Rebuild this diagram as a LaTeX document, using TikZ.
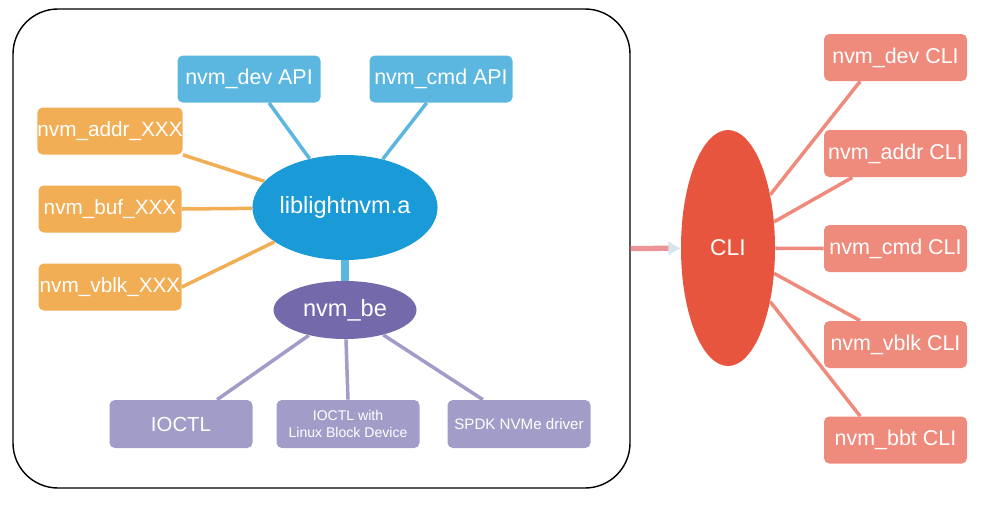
\documentclass[tikz,border=0pt]{standalone}
\usepackage{fontspec}
\setmainfont{Liberation Sans}
\usetikzlibrary{shapes.geometric,arrows.meta}
\definecolor{apiblue}{HTML}{5BB7DF}
\definecolor{libblue}{HTML}{1A9AD6}
\definecolor{modorange}{HTML}{F2AE55}
\definecolor{bepurple}{HTML}{7469AA}
\definecolor{drvlilac}{HTML}{A29DC8}
\definecolor{clired}{HTML}{E8553F}
\definecolor{clisalmon}{HTML}{EF8B7D}
\definecolor{tipblue}{HTML}{D6E4EE}
\definecolor{feedpink}{HTML}{EC9496}

\begin{document}
\begin{tikzpicture}[
    box/.style={rectangle, rounded corners=3pt, minimum width=2.86cm, minimum height=0.94cm, inner sep=0pt, align=center, text=white, font=\fontsize{11.8}{13}\selectfont},
    blob/.style={ellipse, inner sep=0pt, text=white, font=\fontsize{13.4}{15}\selectfont},
    link/.style={line width=2pt}
]
\useasboundingbox (0,0) rectangle (19.72,10.12);

% Library frame
\node[draw=black, line width=0.8pt, rounded corners=0.9cm, minimum width=12.34cm, minimum height=9.58cm] (frame) at (6.43, 5.15) {};

% Library parts
\node[box, fill=apiblue, font=\fontsize{12.2}{14}\selectfont] (devapi) at (4.98, 8.54) {nvm\_dev API};
\node[box, fill=apiblue, font=\fontsize{12.2}{14}\selectfont] (cmdapi) at (8.82, 8.54) {nvm\_cmd API};
\node[box, fill=modorange] (addr) at (2.2, 7.5)  {nvm\_addr\_XXX};
\node[box, fill=modorange] (buf)  at (2.2, 5.94) {nvm\_buf\_XXX};
\node[box, fill=modorange] (vblk) at (2.2, 4.38) {nvm\_vblk\_XXX};
\node[blob, fill=libblue, minimum width=3.34cm, minimum height=2.1cm] (lib) at (6.9, 5.97) {liblightnvm.a};
\node[blob, fill=bepurple, minimum width=2.86cm, minimum height=1.16cm] (be) at (6.9, 3.92) {nvm\_be};
\node[box, fill=drvlilac, minimum height=0.96cm, font=\fontsize{11.6}{13}\selectfont] (ioctl) at (3.62, 1.64) {IOCTL};
\node[box, fill=drvlilac, minimum height=0.96cm, font=\fontsize{8}{9.6}\selectfont] (ioctlblk) at (6.96, 1.64) {IOCTL with\\Linux Block Device};
\node[box, fill=drvlilac, minimum height=0.96cm, font=\fontsize{8.6}{10}\selectfont] (spdk) at (10.38, 1.64) {SPDK NVMe driver};

% CLI parts
\node[blob, fill=clired, minimum width=1.88cm, minimum height=4.72cm, font=\fontsize{13}{15}\selectfont] (cli) at (14.56, 5.16) {CLI};
\node[box, fill=clisalmon, font=\fontsize{12.2}{14}\selectfont] (devcli)  at (17.91, 8.97) {nvm\_dev CLI};
\node[box, fill=clisalmon, font=\fontsize{12.2}{14}\selectfont] (addrcli) at (17.91, 7.05) {nvm\_addr CLI};
\node[box, fill=clisalmon, font=\fontsize{12.2}{14}\selectfont] (cmdcli)  at (17.91, 5.15) {nvm\_cmd CLI};
\node[box, fill=clisalmon, font=\fontsize{12.2}{14}\selectfont] (vblkcli) at (17.91, 3.23) {nvm\_vblk CLI};
\node[box, fill=clisalmon, font=\fontsize{12.2}{14}\selectfont] (bbtcli)  at (17.91, 1.32) {nvm\_bbt CLI};

% Connectors
\draw[link, apiblue] (devapi.-50) -- (lib);
\draw[link, apiblue] (cmdapi.-121) -- (lib);
\draw[link, modorange] (addr.south east) -- (lib);
\draw[link, modorange] (buf.east) -- (lib);
\draw[link, modorange] (vblk.east) -- (lib);
\draw[line width=4.6pt, apiblue] (lib) -- (be);
\draw[link, drvlilac] (ioctl.34) -- (be);
\draw[link, drvlilac] (ioctlblk.north) -- (be);
\draw[link, drvlilac] (spdk.146) -- (be);
\draw[link, clisalmon] (devcli.214) -- (cli);
\draw[link, clisalmon] (addrcli.209) -- (cli);
\draw[link, clisalmon] (cmdcli.west) -- (cli);
\draw[link, clisalmon] (vblkcli.146) -- (cli);
\draw[link, clisalmon] (bbtcli.146) -- (cli);
\draw[line width=3pt, feedpink, -{Latex[length=7pt, width=9pt, color=tipblue]}] (frame.east) -- (cli);

\end{tikzpicture}
\end{document}
